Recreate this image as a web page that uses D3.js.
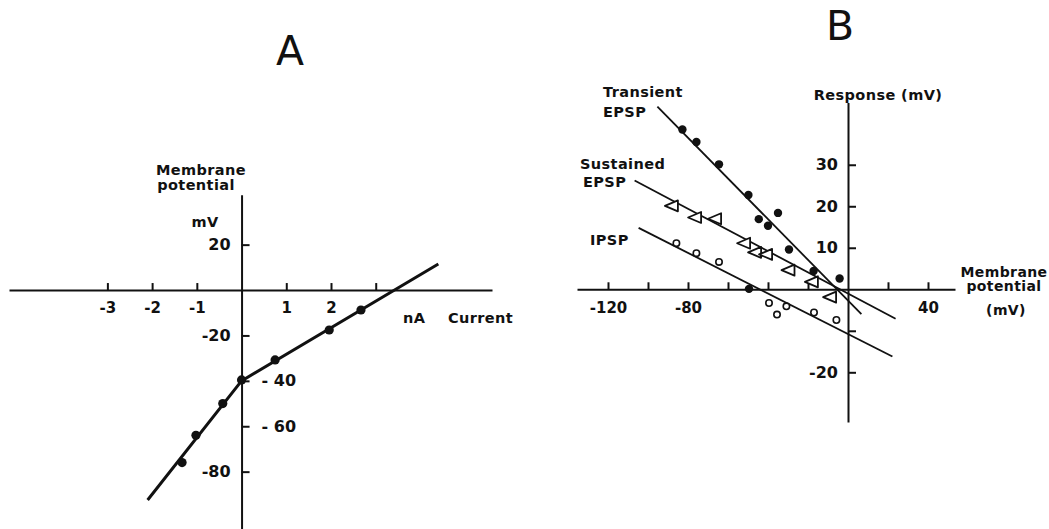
<!DOCTYPE html>
<html>
<head>
<meta charset="utf-8">
<script src="https://cdn.jsdelivr.net/npm/d3@7"></script>
<style>
  html, body { margin: 0; padding: 0; background: #fff; }
  svg text { font-family: "DejaVu Sans", sans-serif; fill: #111; }
</style>
</head>
<body>
<div id="chart"></div>
<script>
// ---- panel A : current / voltage relation ----
const currentA = [2.67, 1.96, 0.75, 0, -0.42, -1.02, -1.33];      // nA
const potentialA = [-8.8, -17.6, -30.8, -39.6, -50, -64, -76];    // mV
const fitA_x = [-2.1, 0, 4.4];
const fitA_y = [-92.5, -40, 11.5];
const ticksA_x = [-3, -2, -1, 1, 2, 3];
const labelsA_x = [-3, -2, -1, 1, 2];
const ticksA_y = [20, -20, -40, -60, -80];
const rightLabelsA_y = [-40, -60];   // these labels sit right of the axis

// ---- panel B : response vs membrane potential ----
const transientX = [-82.8, -75.8, -64.5, -49.8, -44.6, -40, -35, -29.5, -17.2, -4.2];
const transientY = [38.5, 35.5, 30.1, 22.7, 16.9, 15.3, 18.4, 9.6, 4.4, 2.6];
const sustainedX = [-88.3, -76.7, -66.7, -52.2, -46.7, -41.2, -30, -18.3, -9.2];
const sustainedY = [20.1, 17.3, 17.0, 11.1, 8.9, 8.4, 4.6, 1.8, -1.9];
const ipspX = [-85.8, -75.8, -64.5, -39.5, -35.5, -30.8, -17, -5.8];
const ipspY = [11.1, 8.7, 6.6, -3.3, -6.1, -4.1, -5.6, -7.4];
const ipspFilledX = [-49.5];
const ipspFilledY = [0.1];
const transientFitX = [-95.3, 6.7], transientFitY = [44, -6];
const sustainedFitX = [-106.7, 23.8], sustainedFitY = [26.2, -7.1];
const ipspFitX = [-104.7, 22.2], ipspFitY = [14.8, -16.2];
const ticksB_x = [-120, -100, -80, -60, -40, -20, 20, 40];
const labelsB_x = [-120, -80, 40];
const ticksB_y = [30, 20, 10, -10, -20];
const labelsB_y = [30, 20, 10, -20];

const width = 1049, height = 529;
const svg = d3.select("#chart").append("svg")
    .attr("width", width)
    .attr("height", height);

const ink = "#111";
const fmt = d => String(d);   // plain hyphen minus like the original

// small helper for the hand-lettered labels
const label = (g, x, y, t, size, anchor) => g.append("text")
    .attr("x", x).attr("y", y).attr("text-anchor", anchor || "start")
    .style("font-size", size + "px").style("font-weight", "bold")
    .style("letter-spacing", "0.4px").text(t);

// ================= PANEL A =================
const xA = d3.scaleLinear().domain([-5.2, 5.6]).range([9, 492]);
const yA = d3.scaleLinear().domain([-105, 42]).range([528.4, 194.7]);

const gA = svg.append("g");

// x axis (ticks point up, labels below)
const axA_x = gA.append("g")
    .attr("transform", `translate(0,${yA(0)})`)
    .call(d3.axisBottom(xA).tickValues(ticksA_x).tickSizeInner(-7).tickSizeOuter(0)
        .tickPadding(12).tickFormat(d => labelsA_x.includes(d) ? fmt(d) : ""));
axA_x.selectAll("text").style("font-size", "15px").style("font-weight", "bold");

// y axis (ticks to the right)
const axA_y = gA.append("g")
    .attr("transform", `translate(${xA(0)},0)`)
    .call(d3.axisRight(yA).tickValues(ticksA_y).tickSizeInner(8).tickSizeOuter(0)
        .tickPadding(12).tickFormat(fmt));
axA_y.selectAll("text")
    .style("font-size", "16px").style("font-weight", "bold")
    .each(function (d) {
        if (!rightLabelsA_y.includes(d)) {
            d3.select(this).attr("x", -11).attr("text-anchor", "end");
        } else {
            d3.select(this).attr("x", 20).text(d => "- " + Math.abs(d));
        }
    });

[axA_x, axA_y].forEach(a => {
    a.select(".domain").attr("stroke", ink).attr("stroke-width", 2);
    a.selectAll(".tick line").attr("stroke", ink).attr("stroke-width", 2);
});

// fitted line and points
const lineA = d3.line().x(d => xA(d[0])).y(d => yA(d[1]));
gA.append("path")
    .datum(d3.zip(fitA_x, fitA_y))
    .attr("d", lineA)
    .attr("fill", "none")
    .attr("stroke", ink)
    .attr("stroke-width", 3);

gA.selectAll(".ptA")
    .data(d3.zip(currentA, potentialA))
    .enter().append("circle")
    .attr("class", "ptA")
    .attr("cx", d => xA(d[0]))
    .attr("cy", d => yA(d[1]))
    .attr("r", 4.6)
    .attr("fill", ink);

// panel A labels
gA.append("text").attr("x", 290).attr("y", 65).attr("text-anchor", "middle")
    .style("font-size", "41px").text("A");
label(gA, 201, 175, "Membrane", 14.5, "middle");
label(gA, 196, 190, "potential", 14.5, "middle");
label(gA, 205, 227, "mV", 14.5, "middle");
label(gA, 403, 323, "nA", 14.5);
label(gA, 448, 323, "Current", 14.5);

// ================= PANEL B =================
const xB = d3.scaleLinear().domain([-135.5, 53.5]).range([577, 955]);
const yB = d3.scaleLinear().domain([-32, 45]).range([422.1, 102.5]);

const gB = svg.append("g");

const axB_x = gB.append("g")
    .attr("transform", `translate(0,${yB(0)})`)
    .call(d3.axisBottom(xB).tickValues(ticksB_x).tickSizeInner(-7).tickSizeOuter(0)
        .tickPadding(13).tickFormat(d => labelsB_x.includes(d) ? fmt(d) : ""));
axB_x.selectAll("text").style("font-size", "15px").style("font-weight", "bold");

const axB_y = gB.append("g")
    .attr("transform", `translate(${xB(0)},0)`)
    .call(d3.axisRight(yB).tickValues(ticksB_y).tickSizeInner(8).tickSizeOuter(0)
        .tickFormat(d => labelsB_y.includes(d) ? fmt(d) : ""));
axB_y.selectAll("text")
    .style("font-size", "16px").style("font-weight", "bold")
    .attr("x", -10).attr("text-anchor", "end");

[axB_x, axB_y].forEach(a => {
    a.select(".domain").attr("stroke", ink).attr("stroke-width", 2);
    a.selectAll(".tick line").attr("stroke", ink).attr("stroke-width", 2);
});

const lineB = d3.line().x(d => xB(d[0])).y(d => yB(d[1]));
[[transientFitX, transientFitY], [sustainedFitX, sustainedFitY], [ipspFitX, ipspFitY]]
    .forEach(f => {
        gB.append("path")
            .datum(d3.zip(f[0], f[1]))
            .attr("d", lineB)
            .attr("fill", "none")
            .attr("stroke", ink)
            .attr("stroke-width", 1.8);
    });

// transient EPSP: filled dots
gB.selectAll(".tr")
    .data(d3.zip(transientX, transientY).concat(d3.zip(ipspFilledX, ipspFilledY)))
    .enter().append("circle")
    .attr("class", "tr")
    .attr("cx", d => xB(d[0]))
    .attr("cy", d => yB(d[1]))
    .attr("r", 4.2)
    .attr("fill", ink);

// sustained EPSP: open triangles pointing left
const tri = "M-6.5,0L6.5,-5.5L6.5,5.5Z";
gB.selectAll(".su")
    .data(d3.zip(sustainedX, sustainedY))
    .enter().append("path")
    .attr("class", "su")
    .attr("transform", d => `translate(${xB(d[0])},${yB(d[1])})`)
    .attr("d", tri)
    .attr("fill", "#fff")
    .attr("stroke", ink)
    .attr("stroke-width", 1.8)
    .attr("stroke-linejoin", "round");

// IPSP: open circles
gB.selectAll(".ip")
    .data(d3.zip(ipspX, ipspY))
    .enter().append("circle")
    .attr("class", "ip")
    .attr("cx", d => xB(d[0]))
    .attr("cy", d => yB(d[1]))
    .attr("r", 3.2)
    .attr("fill", "#fff")
    .attr("stroke", ink)
    .attr("stroke-width", 1.6);

// panel B labels
gB.append("text").attr("x", 840).attr("y", 40).attr("text-anchor", "middle")
    .style("font-size", "41px").text("B");
label(gB, 603, 97, "Transient", 14.5);
label(gB, 603, 117, "EPSP", 14.5);
label(gB, 580, 169, "Sustained", 14.5);
label(gB, 583, 187, "EPSP", 14.5);
label(gB, 590, 245, "IPSP", 14.5);
label(gB, 878, 100, "Response (mV)", 14.5, "middle");
label(gB, 1004, 277, "Membrane", 14, "middle");
label(gB, 1004, 291, "potential", 14, "middle");
label(gB, 1006, 315, "(mV)", 14, "middle");
</script>
</body>
</html>
